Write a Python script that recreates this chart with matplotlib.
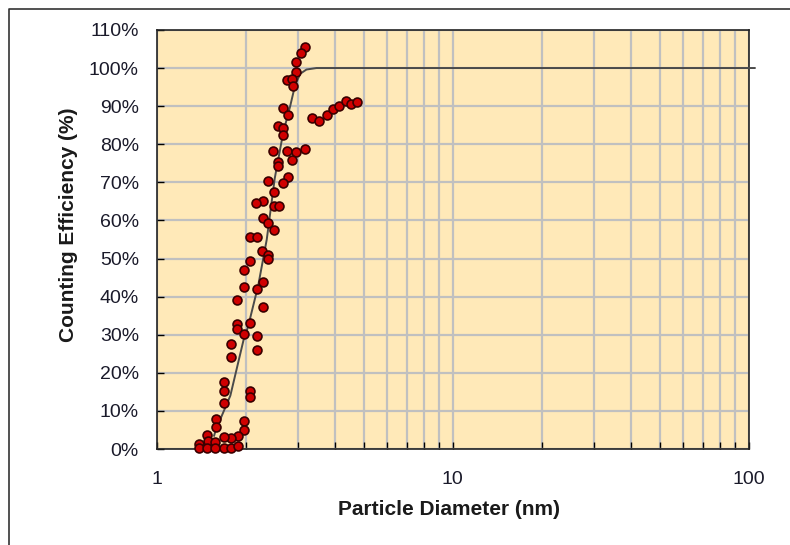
import matplotlib.pyplot as plt
from matplotlib.lines import Line2D
from matplotlib.ticker import FixedLocator, NullFormatter

plt.rcParams['font.family'] = ['Liberation Sans', 'DejaVu Sans']

# measured points: particle diameter (nm) and counting efficiency (%)
diam = [3.16, 3.06, 2.95, 2.95, 2.76, 2.87, 2.89, 2.66, 2.78, 2.57, 2.67, 2.67,
        3.35, 3.54, 3.76, 3.94, 4.13, 4.35, 4.52, 4.75,
        2.47, 2.76, 2.95, 3.16, 2.87, 2.57, 2.57, 2.37, 2.78, 2.67,
        2.49, 2.28, 2.16, 2.49, 2.58, 2.28, 2.37, 2.49, 2.06, 2.17,
        2.27, 2.37, 2.37, 2.06, 1.97, 2.28, 1.97, 2.17, 1.87, 2.28,
        1.87, 1.87, 2.06, 1.97, 2.17, 1.78,
        1.78, 2.17, 1.68, 1.68, 1.68, 2.06, 2.06, 1.58, 1.58, 1.97,
        1.97, 1.88, 1.78, 1.68, 1.48, 1.49, 1.57, 1.39, 1.39, 1.48,
        1.57, 1.68, 1.78, 1.88]
eff = [105.6, 103.9, 101.7, 98.9, 96.9, 97.1, 95.3, 89.4, 87.7, 84.9, 84.3, 82.4,
       87.0, 86.2, 87.7, 89.3, 90.0, 91.4, 90.6, 91.2,
       78.3, 78.3, 77.9, 78.7, 75.9, 75.3, 74.3, 70.4, 71.3, 69.7,
       67.5, 65.2, 64.5, 63.8, 63.8, 60.6, 59.4, 57.5, 55.6, 55.6,
       52.0, 50.9, 49.8, 49.4, 47.0, 43.8, 42.6, 42.0, 39.1, 37.2,
       32.8, 31.5, 33.0, 30.2, 29.7, 27.6,
       24.2, 26.0, 17.5, 15.2, 12.0, 15.3, 13.6, 7.9, 5.7, 7.4,
       5.0, 3.5, 2.8, 3.2, 3.7, 2.2, 1.9, 1.3, 0.4, 0.4,
       0.4, 0.4, 0.4, 0.8]

# fitted efficiency curve
fit_d = [1.56, 1.58, 1.77, 1.96, 2.03, 2.20, 2.35, 2.50, 2.67, 2.82,
         2.93, 3.05, 3.20, 3.46, 104.8]
fit_eff = [3.5, 5, 14, 28.5, 32, 43, 55, 71, 83, 90,
           95.5, 98.5, 99.6, 100, 100]

y_ticks = [0, 10, 20, 30, 40, 50, 60, 70, 80, 90, 100, 110]
y_labels = [f"{v}%" for v in y_ticks]
x_ticks = [1, 10, 100]
x_labels = ["1", "10", "100"]

fig = plt.figure(figsize=(7.9, 5.45), dpi=100)
ax = fig.add_axes([0.1987, 0.1761, 0.749, 0.769])
ax.set_facecolor('#FFE9B8')

ax.set_xscale('log')
ax.set_xlim(1, 100)
ax.set_ylim(0, 110)

ax.xaxis.set_major_locator(FixedLocator(x_ticks))
ax.set_xticklabels(x_labels)
minor = [m * 10 ** k for k in range(2) for m in range(2, 10)]
ax.xaxis.set_minor_locator(FixedLocator(minor))
ax.xaxis.set_minor_formatter(NullFormatter())
ax.set_yticks(y_ticks)
ax.set_yticklabels(y_labels)

ax.grid(True, which='both', axis='x', color='#c0c0c0', lw=1.6)
ax.grid(True, which='major', axis='y', color='#c0c0c0', lw=1.6)
ax.set_axisbelow(True)

ax.tick_params(axis='x', which='both', direction='in', length=5, width=1,
               labelsize=14, pad=16, top=False, labelcolor='#1a1a2a')
ax.tick_params(axis='y', direction='in', length=5, width=1,
               labelsize=14, pad=13, right=False, labelcolor='#1a1a2a')
for s in ax.spines.values():
    s.set_linewidth(1.2)
    s.set_color('#222222')

ax.plot(fit_d, fit_eff, color='#4a4a4a', lw=1.4, clip_on=False, zorder=3)
ax.plot(diam, eff, 'o', ms=6.4, mfc='#D00000', mec='#3a0000', mew=1.2,
        clip_on=False, zorder=4)

ax.set_xlabel('Particle Diameter (nm)', fontsize=15, fontweight='bold',
              color='#1a1a1a')
ax.set_ylabel('Counting Efficiency (%)', fontsize=15, fontweight='bold',
              color='#1a1a1a')
ax.xaxis.set_label_coords(0.4935, -0.122)
ax.yaxis.set_label_coords(-0.133, 0.535)

# frame around the figure (left and top edges visible)
bx, by = 9 / 790, 1 - 9 / 545
fig.add_artist(Line2D([bx, bx, 1], [0, by, by], transform=fig.transFigure,
                      color='#333333', lw=1.2))

fig.savefig('out.png', dpi=100)
